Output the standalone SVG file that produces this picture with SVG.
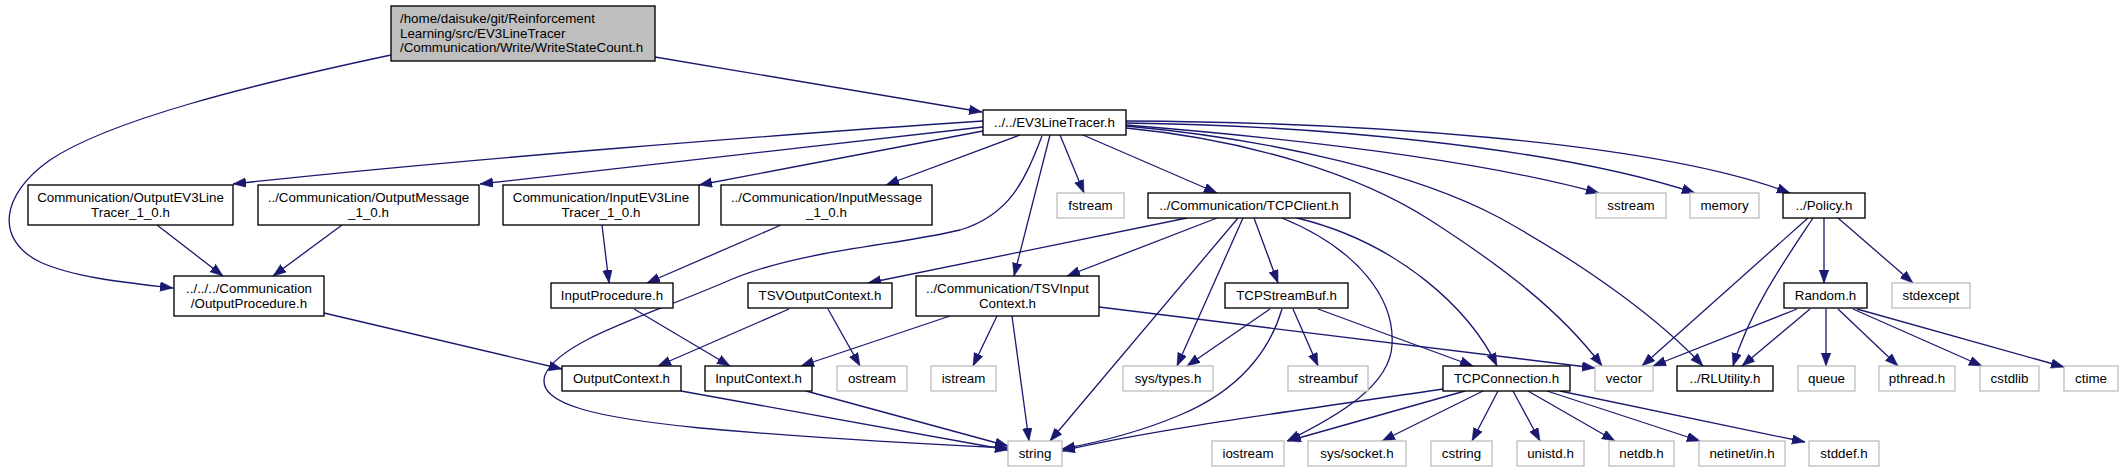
<svg xmlns="http://www.w3.org/2000/svg" width="2123" height="472" viewBox="0 0 2123 472">
<style>
rect{stroke-width:1.35}
.n{fill:#fff;stroke:#000}
.s{fill:#fff;stroke:#bfbfbf}
.r{fill:#bfbfbf;stroke:#000}
text{font-family:"Liberation Sans",Arial,sans-serif;font-size:13.33px;fill:#000}
.c{text-anchor:middle}
#edges path{fill:none;stroke:#191970;stroke-width:1.3;marker-end:url(#ah)}
</style>
<defs>
<marker id="ah" markerUnits="userSpaceOnUse" markerWidth="14" markerHeight="11" refX="13" refY="4.8" orient="auto">
<path d="M0,0 L13,4.8 L0,9.6 Z" fill="#191970" stroke="#191970" stroke-width="0.5"/>
</marker>
</defs>
<rect width="2123" height="472" fill="#fff"/>
<g id="edges">
<path d="M655,57 L982,112"/>
<path d="M391,55 C250,85 110,120 50,160 C0,195 -5,240 40,262 C75,278 130,283 173,288"/>
<path d="M983,121 C800,133 450,160 233,184"/>
<path d="M983,127 L480,184"/>
<path d="M983,131 L699,185"/>
<path d="M1020,135 L886,185"/>
<path d="M1042,136 C1025,180 1010,215 960,230 C900,245 800,250 730,280 C650,315 560,340 545,375 C535,405 600,418 700,428 C800,437 900,443 1008,448"/>
<path d="M1050,135 L1014,276"/>
<path d="M1060,135 L1084,193"/>
<path d="M1083,135 L1217,193"/>
<path d="M1126,128 C1250,140 1360,175 1430,220 C1500,265 1560,310 1602,366"/>
<path d="M1126,126 C1280,140 1420,175 1500,218 C1590,268 1660,320 1703,366"/>
<path d="M1126,125 C1250,135 1460,155 1599,193"/>
<path d="M1126,123 C1300,125 1550,145 1695,193"/>
<path d="M1126,121 C1350,122 1650,140 1790,193"/>
<path d="M1187,218 L868,283"/>
<path d="M1217,218 L1067,276"/>
<path d="M1238,218 L1050,441"/>
<path d="M1243,218 L1177,366"/>
<path d="M1254,218 L1278,283"/>
<path d="M1282,218 C1360,250 1395,300 1392,345 C1390,385 1340,415 1287,441"/>
<path d="M1297,218 C1400,243 1470,310 1497,366"/>
<path d="M789,309 L658,366"/>
<path d="M828,309 L860,366"/>
<path d="M950,316 L801,366"/>
<path d="M997,316 L973,366"/>
<path d="M1012,316 L1029,441"/>
<path d="M1099,307 L1595,368"/>
<path d="M634,309 L730,366"/>
<path d="M324,313 L562,369"/>
<path d="M681,391 L1008,450"/>
<path d="M806,391 L1008,446"/>
<path d="M157,225 L223,276"/>
<path d="M342,225 L273,276"/>
<path d="M602,225 L609,283"/>
<path d="M781,225 L647,283"/>
<path d="M1270,309 L1187,366"/>
<path d="M1282,309 C1270,350 1240,390 1180,415 C1140,432 1100,442 1062,449"/>
<path d="M1293,309 L1318,366"/>
<path d="M1318,309 L1473,366"/>
<path d="M1443,389 C1300,410 1150,430 1062,451"/>
<path d="M1465,391 L1288,441"/>
<path d="M1483,391 L1382,441"/>
<path d="M1498,391 L1472,441"/>
<path d="M1513,391 L1540,441"/>
<path d="M1528,391 L1615,441"/>
<path d="M1547,391 L1700,441"/>
<path d="M1560,391 L1805,442"/>
<path d="M1808,218 L1642,366"/>
<path d="M1813,218 C1785,260 1750,310 1733,366"/>
<path d="M1824,218 L1824,283"/>
<path d="M1838,218 L1913,283"/>
<path d="M1797,309 L1653,366"/>
<path d="M1810,309 L1742,366"/>
<path d="M1826,309 L1826,366"/>
<path d="M1838,309 L1898,366"/>
<path d="M1853,309 L1982,366"/>
<path d="M1857,309 L2064,367"/>
</g>
<g id="root"><rect class="r" x="391" y="6" width="264" height="55"/><text x="400" y="23">/home/daisuke/git/Reinforcement</text><text x="400" y="37.5">Learning/src/EV3LineTracer</text><text x="400" y="52">/Communication/Write/WriteStateCount.h</text></g>
<g id="ev3linetracer"><rect class="n" x="983" y="110" width="143" height="25"/><text class="c" x="1054.5" y="127">../../EV3LineTracer.h</text></g>
<g id="outputev3line"><rect class="n" x="28" y="185" width="205" height="40"/><text class="c" x="130.5" y="201.5">Communication/OutputEV3Line</text><text class="c" x="130.5" y="216.5">Tracer_1_0.h</text></g>
<g id="outputmessage"><rect class="n" x="258" y="185" width="221" height="40"/><text class="c" x="368.5" y="201.5">../Communication/OutputMessage</text><text class="c" x="368.5" y="216.5">_1_0.h</text></g>
<g id="inputev3line"><rect class="n" x="503" y="185" width="196" height="40"/><text class="c" x="601" y="201.5">Communication/InputEV3Line</text><text class="c" x="601" y="216.5">Tracer_1_0.h</text></g>
<g id="inputmessage"><rect class="n" x="721" y="185" width="211" height="40"/><text class="c" x="826.5" y="201.5">../Communication/InputMessage</text><text class="c" x="826.5" y="216.5">_1_0.h</text></g>
<g id="fstream"><rect class="s" x="1057" y="193" width="67" height="25"/><text class="c" x="1090.5" y="210">fstream</text></g>
<g id="tcpclient"><rect class="n" x="1148" y="193" width="202" height="25"/><text class="c" x="1249" y="210">../Communication/TCPClient.h</text></g>
<g id="sstream"><rect class="s" x="1596" y="193" width="70" height="25"/><text class="c" x="1631" y="210">sstream</text></g>
<g id="memory"><rect class="s" x="1690" y="193" width="69" height="25"/><text class="c" x="1724.5" y="210">memory</text></g>
<g id="policy"><rect class="n" x="1783" y="193" width="82" height="25"/><text class="c" x="1824" y="210">../Policy.h</text></g>
<g id="outputprocedure"><rect class="n" x="174" y="276" width="150" height="40"/><text class="c" x="249" y="292.5">../../../Communication</text><text class="c" x="249" y="307.5">/OutputProcedure.h</text></g>
<g id="inputprocedure"><rect class="n" x="551" y="283" width="122" height="25"/><text class="c" x="612" y="300">InputProcedure.h</text></g>
<g id="tsvoutputcontext"><rect class="n" x="748" y="283" width="144" height="25"/><text class="c" x="820" y="300">TSVOutputContext.h</text></g>
<g id="tsvinputcontext"><rect class="n" x="916" y="276" width="183" height="40"/><text class="c" x="1007.5" y="292.5">../Communication/TSVInput</text><text class="c" x="1007.5" y="307.5">Context.h</text></g>
<g id="tcpstreambuf"><rect class="n" x="1225" y="283" width="123" height="25"/><text class="c" x="1286.5" y="300">TCPStreamBuf.h</text></g>
<g id="random"><rect class="n" x="1784" y="283" width="83" height="25"/><text class="c" x="1825.5" y="300">Random.h</text></g>
<g id="stdexcept"><rect class="s" x="1892" y="283" width="78" height="25"/><text class="c" x="1931" y="300">stdexcept</text></g>
<g id="outputcontext"><rect class="n" x="562" y="366" width="119" height="25"/><text class="c" x="621.5" y="383">OutputContext.h</text></g>
<g id="inputcontext"><rect class="n" x="705" y="366" width="107" height="25"/><text class="c" x="758.5" y="383">InputContext.h</text></g>
<g id="ostream"><rect class="s" x="837" y="366" width="70" height="25"/><text class="c" x="872" y="383">ostream</text></g>
<g id="istream"><rect class="s" x="931" y="366" width="65" height="25"/><text class="c" x="963.5" y="383">istream</text></g>
<g id="systypes"><rect class="s" x="1123" y="366" width="90" height="25"/><text class="c" x="1168" y="383">sys/types.h</text></g>
<g id="streambuf"><rect class="s" x="1288" y="366" width="80" height="25"/><text class="c" x="1328" y="383">streambuf</text></g>
<g id="tcpconnection"><rect class="n" x="1443" y="366" width="127" height="25"/><text class="c" x="1506.5" y="383">TCPConnection.h</text></g>
<g id="vector"><rect class="s" x="1595" y="366" width="58" height="25"/><text class="c" x="1624" y="383">vector</text></g>
<g id="rlutility"><rect class="n" x="1677" y="366" width="96" height="25"/><text class="c" x="1725" y="383">../RLUtility.h</text></g>
<g id="queue"><rect class="s" x="1798" y="366" width="57" height="25"/><text class="c" x="1826.5" y="383">queue</text></g>
<g id="pthread"><rect class="s" x="1879" y="366" width="76" height="25"/><text class="c" x="1917" y="383">pthread.h</text></g>
<g id="cstdlib"><rect class="s" x="1980" y="366" width="59" height="25"/><text class="c" x="2009.5" y="383">cstdlib</text></g>
<g id="ctime"><rect class="s" x="2064" y="366" width="54" height="25"/><text class="c" x="2091" y="383">ctime</text></g>
<g id="string"><rect class="s" x="1008" y="441" width="54" height="25"/><text class="c" x="1035" y="458">string</text></g>
<g id="iostream"><rect class="s" x="1212" y="441" width="72" height="25"/><text class="c" x="1248" y="458">iostream</text></g>
<g id="syssocket"><rect class="s" x="1308" y="441" width="98" height="25"/><text class="c" x="1357" y="458">sys/socket.h</text></g>
<g id="cstring"><rect class="s" x="1431" y="441" width="61" height="25"/><text class="c" x="1461.5" y="458">cstring</text></g>
<g id="unistd"><rect class="s" x="1517" y="441" width="67" height="25"/><text class="c" x="1550.5" y="458">unistd.h</text></g>
<g id="netdb"><rect class="s" x="1609" y="441" width="65" height="25"/><text class="c" x="1641.5" y="458">netdb.h</text></g>
<g id="netinet"><rect class="s" x="1699" y="441" width="86" height="25"/><text class="c" x="1742" y="458">netinet/in.h</text></g>
<g id="stddef"><rect class="s" x="1809" y="441" width="70" height="25"/><text class="c" x="1844" y="458">stddef.h</text></g>
</svg>
